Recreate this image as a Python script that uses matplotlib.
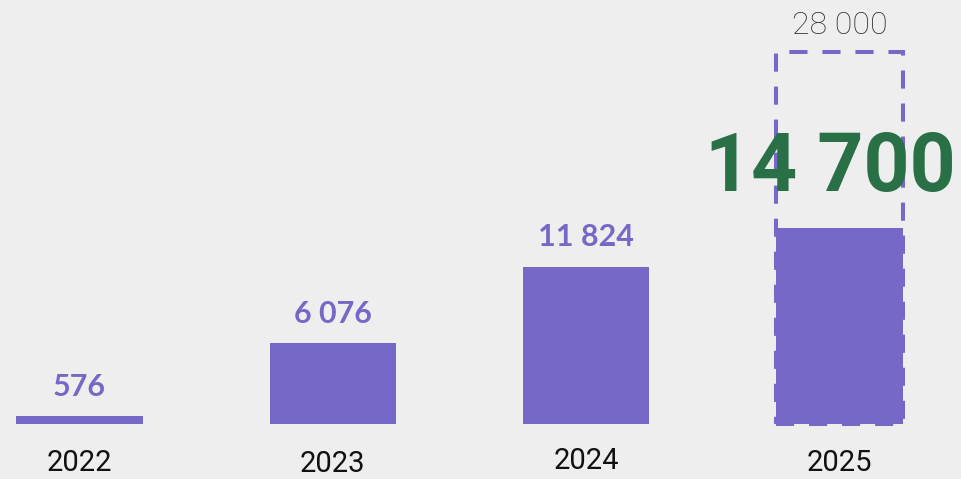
import matplotlib.pyplot as plt
from matplotlib.patches import Rectangle

years = ["2022", "2023", "2024", "2025"]
values = [576, 6076, 11824, 14700]
value_labels = ["576", "6 076", "11 824"]
target = 28000
target_label = "28 000"
highlight_label = "14 700"

bar_color = "#7668c6"
green = "#2a7046"
bg = "#eeeeee"

fig = plt.figure(figsize=(9.61, 4.79), dpi=100)
fig.patch.set_facecolor(bg)
ax = fig.add_axes([0, 0, 1, 1])
ax.set_facecolor(bg)

x = [0, 1, 2, 3]
width = 0.5
ax.bar(x, values, width=width, color=bar_color, zorder=2)

# dashed target box for the last year
ax.add_patch(Rectangle((x[3] - width / 2, 0), width, target, fill=False,
                       edgecolor=bar_color, lw=2.9, linestyle=(0, (4.5, 3.7)),
                       zorder=3))

for i, lab in enumerate(value_labels):
    ax.text(x[i], values[i] + 2200, lab, ha="center", va="center",
            fontsize=22, fontweight="bold", family="Lato", color=bar_color)

ax.text(x[3], target + 2000, target_label, ha="center", va="center",
        fontsize=23, family="Roboto", fontweight="light", color="#333333")
ax.text(x[3] - 0.035, 19200, highlight_label, ha="center", va="center",
        fontsize=58, fontweight="semibold", family="Roboto", color=green, zorder=4)

year_y = [-2950, -3000, -2750, -2950]
for i, yr in enumerate(years):
    ax.text(x[i], year_y[i], yr, ha="center", va="center",
            fontsize=21, family="Roboto", color="#111111")

ax.set_xlim(-0.314, 3.48)
ax.set_ylim(-4135, 31880)
ax.axis("off")

fig.savefig("out.png", dpi=100, facecolor=bg)
